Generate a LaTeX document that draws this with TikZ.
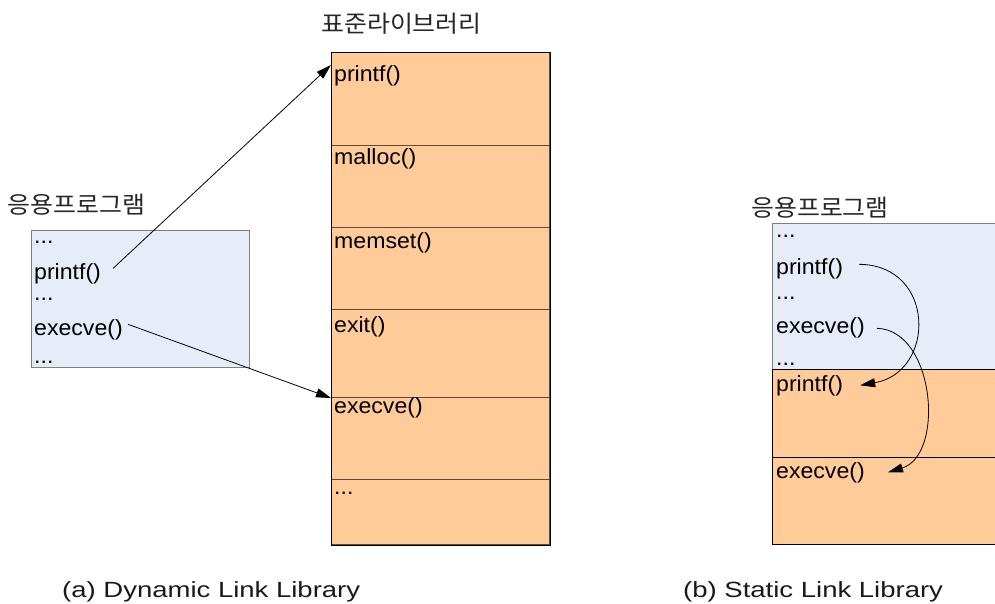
\documentclass[tikz,border=0pt]{standalone}
\usepackage{fontspec}
\setmainfont[FakeStretch=1.05]{Liberation Sans}
\newfontfamily\hangul[FakeStretch=1.06]{Noto Sans CJK KR}
\newfontfamily\capfont[FakeStretch=1.25]{Liberation Sans}
\usetikzlibrary{arrows.meta}
\definecolor{progblue}{HTML}{E6ECF8}
\definecolor{libfill}{HTML}{FFCC99}
\definecolor{boxgray}{HTML}{7F7F7F}
\definecolor{divline}{HTML}{5C4A3C}
\begin{document}
\begin{tikzpicture}[x=1pt,y=-1pt,
  code/.style={anchor=base west, inner sep=0pt, font=\fontsize{22}{26}\selectfont},
  hlabel/.style={anchor=center, inner sep=0pt, font=\hangul\fontsize{23.5}{26}\selectfont, text=black!85},
  caption/.style={anchor=base west, inner sep=0pt, font=\capfont\fontsize{22}{26}\selectfont, text=black!90},
  progbox/.style={draw=boxgray, fill=progblue, line width=1pt, anchor=north west, inner sep=0pt},
  slot/.style={draw=divline, fill=libfill, line width=1pt, anchor=north west, inner sep=0pt},
  link/.style={-{Triangle[length=15pt,width=9pt]}, line width=0.8pt},
]
\useasboundingbox (0,0) rectangle (995,603);

% ---------- (a) dynamic linking ----------
\node[hlabel] (lapplabel) at (76.5,205) {응용프로그램};
\node[progbox, minimum width=218pt, minimum height=137pt] (lprog) at (31,230) {};
\node[code] (ld1) at (34,243.5) {...};
\node[code] (lpr) at (34,279) {printf()};
\node[code] (ld2) at (34,300) {...};
\node[code] (lex) at (34,335) {execve()};
\node[code] (ld3) at (34,363.5) {...};

\node[hlabel] (libtitle) at (401.5,24) {표준라이브러리};
\node[slot, minimum width=218pt, minimum height=93pt] (s1) at (331,52) {};
\node[slot, minimum width=218pt, minimum height=82pt] (s2) at (331,145) {};
\node[slot, minimum width=218pt, minimum height=82pt] (s3) at (331,227) {};
\node[slot, minimum width=218pt, minimum height=88pt] (s4) at (331,309) {};
\node[slot, minimum width=218pt, minimum height=82pt] (s5) at (331,397) {};
\node[slot, minimum width=218pt, minimum height=65pt] (s6) at (331,479) {};
\draw[black, line width=1pt] (s1.north west) rectangle (s6.south east);

\node[code] (lib1) at (334,81.5) {printf()};
\node[code] (lib2) at (334,164.5) {malloc()};
\node[code] (lib3) at (334,248) {memset()};
\node[code] (lib4) at (334,332) {exit()};
\node[code] (lib5) at (334,413.5) {execve()};
\node[code] (lib6) at (334,494) {...};

\draw[link] ([xshift=12pt,yshift=5pt]lpr.east) -- ([yshift=-13pt]s1.north west);
\draw[link] ([xshift=5pt,yshift=5pt]lex.east) -- ([yshift=-1pt]s5.north west);

\node[caption] (capa) at (62,597) {(a) Dynamic Link Library};

% ---------- (b) static linking ----------
\node[hlabel] (rapplabel) at (820,207.5) {응용프로그램};
\node[progbox, minimum width=232pt, minimum height=146pt] (rprog) at (772,223) {};
\node[code] (rd1) at (776,237) {...};
\node[code] (rpr) at (776,274) {printf()};
\node[code] (rd2) at (776,299) {...};
\node[code] (rex) at (776,333) {execve()};
\node[code] (rd3) at (776,365) {...};

\node[slot, draw=black, minimum width=232pt, minimum height=88pt] (rs1) at (772,369) {};
\node[slot, draw=black, minimum width=232pt, minimum height=87pt] (rs2) at (772,457) {};
\node[code] (rpr2) at (776,391) {printf()};
\node[code] (rex2) at (776,478) {execve()};

\draw[link] ([xshift=16pt,yshift=4pt]rpr.east)
  .. controls (936,265) and (936,372) .. ([xshift=17pt]rpr2.east);
\draw[link] ([xshift=12pt,yshift=-1pt]rex.east)
  .. controls (935,330) and (945,455) .. ([xshift=23pt]rex2.east);

\node[caption] (capb) at (683,597) {(b) Static Link Library};
\end{tikzpicture}
\end{document}
